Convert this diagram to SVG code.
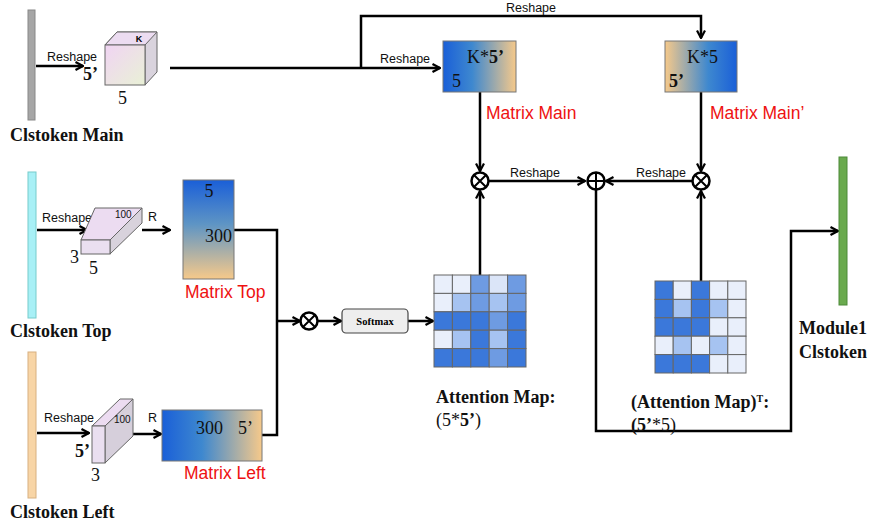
<svg xmlns="http://www.w3.org/2000/svg" width="870" height="526" viewBox="0 0 870 526">
<style>
.ln{fill:none;stroke:#000;stroke-width:2.5}
.lab{font-family:"Liberation Serif",serif;font-weight:bold;font-size:18px;fill:#111}
.rs{font-family:"Liberation Sans",Arial,sans-serif;font-size:12.5px;fill:#111}
.red{font-family:"Liberation Sans",Arial,sans-serif;font-size:17.5px;fill:#ee1111}
.num{font-family:"Liberation Serif",serif;font-size:18px;fill:#111}
.bnum{font-family:"Liberation Serif",serif;font-size:18px;font-weight:bold;fill:#111}
.sm{font-family:"Liberation Sans",Arial,sans-serif;font-size:10px;fill:#111}
.op{fill:#fff;stroke:#000;stroke-width:2.5}
.mat{stroke:#777;stroke-width:1}
.c0{fill:#e9effb}.c1{fill:#a6c3f1}.c2{fill:#6e9be2}.c3{fill:#3b78da}
.cell rect{stroke:#666;stroke-width:1}
</style>
<defs>
<marker id="arr" viewBox="0 0 10 10" refX="9" refY="5" markerWidth="10" markerHeight="10" markerUnits="userSpaceOnUse" orient="auto">
<path d="M1.5,1 L9,5 L1.5,9" fill="none" stroke="#000" stroke-width="2.2"/>
</marker>
<linearGradient id="gBT" x1="0" y1="0" x2="1" y2="0"><stop offset="0" stop-color="#1a5fd8"/><stop offset="0.4" stop-color="#3e88cf"/><stop offset="1" stop-color="#f6c98a"/></linearGradient>
<linearGradient id="gTB" x1="0" y1="0" x2="1" y2="0"><stop offset="0" stop-color="#f6c98a"/><stop offset="0.6" stop-color="#3e88cf"/><stop offset="1" stop-color="#1a5fd8"/></linearGradient>
<linearGradient id="gV" x1="0" y1="0" x2="0" y2="1"><stop offset="0" stop-color="#1a5fd8"/><stop offset="0.45" stop-color="#5f95c4"/><stop offset="1" stop-color="#f6c98a"/></linearGradient>
<linearGradient id="gCube" x1="0" y1="0" x2="1" y2="1"><stop offset="0" stop-color="#f0d4f3"/><stop offset="1" stop-color="#e9f1d6"/></linearGradient>
</defs>

<g id="connectors">
<path class="ln" d="M36,66 L83,66" marker-end="url(#arr)"/>
<path class="ln" d="M170,68 L440,68" marker-end="url(#arr)"/>
<path class="ln" d="M361,68 L361,16 L701,16 L701,38" marker-end="url(#arr)"/>
<path class="ln" d="M480,92 L480,171" marker-end="url(#arr)"/>
<path class="ln" d="M701,92 L701,171" marker-end="url(#arr)"/>
<path class="ln" d="M489,181 L585,181" marker-end="url(#arr)"/>
<path class="ln" d="M692,181 L606,181" marker-end="url(#arr)"/>
<path class="ln" d="M480,275 L480,191" marker-end="url(#arr)"/>
<path class="ln" d="M701,281 L701,191" marker-end="url(#arr)"/>
<path class="ln" d="M596,190 L596,431 L791,431 L791,231 L838,231" marker-end="url(#arr)"/>
<path class="ln" d="M37,230 L87,230" marker-end="url(#arr)"/>
<path class="ln" d="M142,230 L170,230" marker-end="url(#arr)"/>
<path class="ln" d="M234,230 L277,230 L277,435 L262,435"/>
<path class="ln" d="M277,321 L300,321" marker-end="url(#arr)"/>
<path class="ln" d="M318,321 L341,321" marker-end="url(#arr)"/>
<path class="ln" d="M408,321 L433,321" marker-end="url(#arr)"/>
<path class="ln" d="M37,433 L89,433" marker-end="url(#arr)"/>
<path class="ln" d="M133,434 L161,434" marker-end="url(#arr)"/>
<text class="rs" x="47" y="61">Reshape</text>
<text class="rs" x="531" y="12" text-anchor="middle">Reshape</text>
<text class="rs" x="380" y="63">Reshape</text>
<text class="rs" x="535" y="177" text-anchor="middle">Reshape</text>
<text class="rs" x="661" y="177" text-anchor="middle">Reshape</text>
<text class="rs" x="42" y="222">Reshape</text>
<text class="rs" x="148" y="221">R</text>
<text class="rs" x="44" y="422">Reshape</text>
<text class="rs" x="148" y="422">R</text>
</g>

<g id="clstoken-main">
<rect x="28" y="10" width="7" height="110" fill="#a6a6a6" stroke="#888" stroke-width="1"/>
<text class="lab" x="10" y="141">Clstoken Main</text>
</g>

<g id="cube-main">
<path d="M105,45 L117,32 L157,32 L157,72 L145,85 L145,45 Z" fill="#d9d3dd" stroke="#666" stroke-width="1"/>
<path d="M105,45 L117,32 L157,32 L145,45 Z" fill="#ecdcf1" stroke="#666" stroke-width="1"/>
<rect x="105" y="45" width="40" height="40" fill="url(#gCube)" stroke="#666" stroke-width="1"/>
<text x="139" y="42" font-family="Liberation Sans,Arial,sans-serif" font-size="9" font-weight="bold" text-anchor="middle">K</text>
<text class="bnum" x="83" y="80">5’</text>
<text class="num" x="118" y="104">5</text>
</g>

<g id="matrix-main">
<rect x="443" y="41" width="73" height="51" fill="url(#gBT)" class="mat"/>
<text class="num" x="467" y="63">K*<tspan font-weight="bold">5’</tspan></text>
<text class="num" x="452" y="87">5</text>
<text class="red" x="486" y="119">Matrix Main</text>
</g>

<g id="matrix-main-prime">
<rect x="665" y="41" width="72" height="51" fill="url(#gTB)" class="mat"/>
<text class="num" x="687" y="63">K*5</text>
<text class="bnum" x="669" y="87">5’</text>
<text class="red" x="710" y="119">Matrix Main’</text>
</g>

<g id="op-left">
<circle class="op" cx="480" cy="181" r="8.5"/>
<path d="M474,175 L486,187 M486,175 L474,187" stroke="#000" stroke-width="2"/>
</g>
<g id="op-plus">
<circle class="op" cx="596" cy="181" r="8.5"/>
<path d="M596,172.5 L596,189.5 M587.5,181 L604.5,181" stroke="#000" stroke-width="2"/>
</g>
<g id="op-right">
<circle class="op" cx="701" cy="181" r="8.5"/>
<path d="M695,175 L707,187 M707,175 L695,187" stroke="#000" stroke-width="2"/>
</g>
<g id="op-mid">
<circle class="op" cx="309" cy="321" r="8.5"/>
<path d="M303,315 L315,327 M315,315 L303,327" stroke="#000" stroke-width="2"/>
</g>

<g id="clstoken-top">
<rect x="28" y="172" width="8" height="146" fill="#a8f0f6" stroke="#7cc" stroke-width="1"/>
<text class="lab" x="10" y="337">Clstoken Top</text>
</g>

<g id="box-top">
<path d="M110,240 L142,208 L142,223 L110,254 Z" fill="#d8d2dc" stroke="#666" stroke-width="1"/>
<path d="M81,240 L95,208 L142,208 L110,240 Z" fill="#ecdcf1" stroke="#666" stroke-width="1"/>
<rect x="81" y="240" width="29" height="14" fill="#eadff0" stroke="#666" stroke-width="1"/>
<text class="sm" x="115" y="218">100</text>
<text class="num" x="70" y="263">3</text>
<text class="num" x="89" y="274">5</text>
</g>

<g id="matrix-top">
<rect x="183" y="180" width="51" height="99" fill="url(#gV)" class="mat"/>
<text class="num" x="209" y="197" text-anchor="middle">5</text>
<text class="num" x="232" y="242" text-anchor="end">300</text>
<text class="red" x="185" y="298">Matrix Top</text>
</g>

<g id="softmax">
<rect x="342" y="309" width="66" height="24" rx="4" fill="#eeeeee" stroke="#444" stroke-width="1.2"/>
<text x="375" y="325" text-anchor="middle" font-family="Liberation Serif,serif" font-weight="bold" font-size="10.5">Softmax</text>
</g>

<g id="clstoken-left">
<rect x="28" y="352" width="8" height="146" fill="#f8d5a6" stroke="#d8b080" stroke-width="1"/>
<text class="lab" x="10" y="518">Clstoken Left</text>
</g>

<g id="box-left">
<path d="M105,426 L133,399 L133,436 L105,463 Z" fill="#d6cfdb" stroke="#666" stroke-width="1"/>
<path d="M92,426 L120,399 L133,399 L105,426 Z" fill="#ecdcf1" stroke="#666" stroke-width="1"/>
<rect x="92" y="426" width="13" height="37" fill="#eadff0" stroke="#666" stroke-width="1"/>
<text class="sm" x="114" y="423">100</text>
<text class="bnum" x="75" y="457">5’</text>
<text class="num" x="91" y="481">3</text>
</g>

<g id="matrix-left">
<rect x="162" y="410" width="100" height="51" fill="url(#gBT)" class="mat"/>
<text class="num" x="196" y="434">300</text>
<text class="num" x="238" y="434">5’</text>
<text class="red" x="184" y="479">Matrix Left</text>
</g>

<g id="attention-map" class="cell">
<rect class="c0" x="434" y="275" width="18.4" height="18.4"/><rect class="c0" x="452.4" y="275" width="18.4" height="18.4"/><rect class="c2" x="470.8" y="275" width="18.4" height="18.4"/><rect fill="#dbe5f8" x="489.2" y="275" width="18.4" height="18.4"/><rect class="c2" x="507.6" y="275" width="18.4" height="18.4"/>
<rect class="c0" x="434" y="293.4" width="18.4" height="18.4"/><rect class="c1" x="452.4" y="293.4" width="18.4" height="18.4"/><rect class="c2" x="470.8" y="293.4" width="18.4" height="18.4"/><rect class="c1" x="489.2" y="293.4" width="18.4" height="18.4"/><rect class="c2" x="507.6" y="293.4" width="18.4" height="18.4"/>
<rect class="c3" x="434" y="311.8" width="18.4" height="18.4"/><rect class="c3" x="452.4" y="311.8" width="18.4" height="18.4"/><rect class="c3" x="470.8" y="311.8" width="18.4" height="18.4"/><rect class="c2" x="489.2" y="311.8" width="18.4" height="18.4"/><rect class="c3" x="507.6" y="311.8" width="18.4" height="18.4"/>
<rect class="c0" x="434" y="330.2" width="18.4" height="18.4"/><rect class="c1" x="452.4" y="330.2" width="18.4" height="18.4"/><rect class="c3" x="470.8" y="330.2" width="18.4" height="18.4"/><rect class="c1" x="489.2" y="330.2" width="18.4" height="18.4"/><rect class="c3" x="507.6" y="330.2" width="18.4" height="18.4"/>
<rect class="c3" x="434" y="348.6" width="18.4" height="18.4"/><rect class="c3" x="452.4" y="348.6" width="18.4" height="18.4"/><rect class="c3" x="470.8" y="348.6" width="18.4" height="18.4"/><rect class="c2" x="489.2" y="348.6" width="18.4" height="18.4"/><rect class="c3" x="507.6" y="348.6" width="18.4" height="18.4"/>
<text class="lab" x="436" y="403" font-size="17">Attention Map:</text>
<text class="num" x="436" y="426" font-size="17">(5*<tspan font-weight="bold">5’</tspan>)</text>
</g>

<g id="attention-map-t" class="cell">
<rect class="c3" x="655" y="281" width="18.2" height="18.4"/><rect class="c0" x="673.2" y="281" width="18.2" height="18.4"/><rect class="c3" x="691.4" y="281" width="18.2" height="18.4"/><rect class="c0" x="709.6" y="281" width="18.2" height="18.4"/><rect class="c0" x="727.8" y="281" width="18.2" height="18.4"/>
<rect class="c3" x="655" y="299.4" width="18.2" height="18.4"/><rect class="c1" x="673.2" y="299.4" width="18.2" height="18.4"/><rect class="c3" x="691.4" y="299.4" width="18.2" height="18.4"/><rect class="c1" x="709.6" y="299.4" width="18.2" height="18.4"/><rect class="c0" x="727.8" y="299.4" width="18.2" height="18.4"/>
<rect class="c3" x="655" y="317.8" width="18.2" height="18.4"/><rect class="c3" x="673.2" y="317.8" width="18.2" height="18.4"/><rect class="c3" x="691.4" y="317.8" width="18.2" height="18.4"/><rect class="c0" x="709.6" y="317.8" width="18.2" height="18.4"/><rect class="c0" x="727.8" y="317.8" width="18.2" height="18.4"/>
<rect class="c0" x="655" y="336.2" width="18.2" height="18.4"/><rect class="c1" x="673.2" y="336.2" width="18.2" height="18.4"/><rect class="c0" x="691.4" y="336.2" width="18.2" height="18.4"/><rect class="c1" x="709.6" y="336.2" width="18.2" height="18.4"/><rect class="c0" x="727.8" y="336.2" width="18.2" height="18.4"/>
<rect class="c3" x="655" y="354.6" width="18.2" height="18.4"/><rect class="c3" x="673.2" y="354.6" width="18.2" height="18.4"/><rect class="c3" x="691.4" y="354.6" width="18.2" height="18.4"/><rect class="c0" x="709.6" y="354.6" width="18.2" height="18.4"/><rect class="c0" x="727.8" y="354.6" width="18.2" height="18.4"/>
<text class="lab" x="631" y="408" font-size="17">(Attention Map)<tspan font-size="10" dy="-6">T</tspan><tspan dy="6">:</tspan></text>
<text class="num" x="631" y="431" font-size="17"><tspan font-weight="bold">(5’</tspan>*5)</text>
</g>

<g id="module1-clstoken">
<rect x="839" y="157" width="8" height="148" fill="#6aaa4e" stroke="#4d8a38" stroke-width="1"/>
<text class="lab" x="833" y="334" text-anchor="middle">Module1</text>
<text class="lab" x="833" y="358" text-anchor="middle">Clstoken</text>
</g>
</svg>
